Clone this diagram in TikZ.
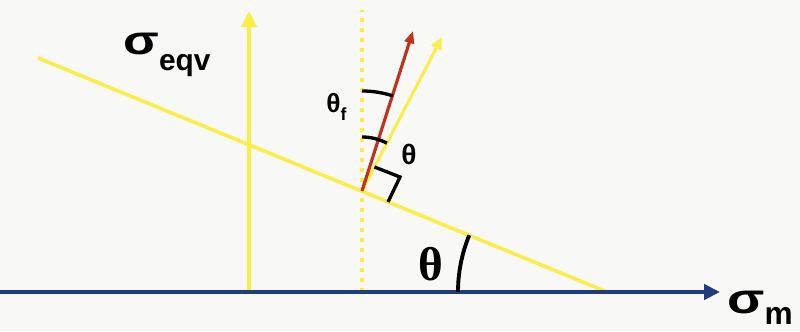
\documentclass[tikz,border=0pt]{standalone}
\usepackage{fontspec}
\setmainfont{Liberation Sans}
\newfontfamily\thetafont{Liberation Serif}
\usetikzlibrary{arrows.meta}
\definecolor{axisblue}{RGB}{30,60,126}
\definecolor{lineyellow}{RGB}{250,238,70}
\definecolor{vecred}{RGB}{192,50,28}
\definecolor{paper}{RGB}{248,248,246}
\tikzset{
  axisline/.style={draw=axisblue,line width=2.8pt,-{Triangle[length=9pt,width=8.5pt]}},
  yellowarrow/.style={draw=lineyellow,line width=2.8pt,-{Triangle[length=9pt,width=8.5pt]}},
  limitline/.style={draw=lineyellow,line width=2pt},
  dotline/.style={draw=lineyellow,line width=2.2pt,dash pattern=on 2.2pt off 3.5pt},
  redarrow/.style={draw=vecred,line width=1.8pt,-{Triangle[length=7pt,width=5.5pt]}},
  anglearc/.style={draw=black,line width=1.9pt},
  bigsym/.style={font=\bfseries\fontsize{22}{22}\selectfont,inner sep=0pt},
  smallsym/.style={font=\bfseries\fontsize{15}{15}\selectfont,inner sep=0pt}
}

\begin{document}
\begin{tikzpicture}[x=0.02cm,y=0.02cm]
% paper and frame
\fill[paper] (0,0) rectangle (800,331);
\useasboundingbox (0,0) rectangle (800,331);

% points of the picture
\coordinate (o) at (0,39);
\coordinate (xend) at (720,39);
\coordinate (ybot) at (249,39);
\coordinate (ytop) at (249,320);
\coordinate (lstart) at (38,273);
\coordinate (lend) at (607,39);
\coordinate (dbot) at (362,39);
\coordinate (dtop) at (362,321);
\coordinate (p) at (362,140);
\coordinate (rtip) at (413,300);
\coordinate (ytip) at (442,294);

% lines
\draw[dotline] (dbot) -- (dtop);
\draw[limitline] (lstart) -- (lend);
\draw[yellowarrow] (ybot) -- (ytop);
\draw[axisline] (o) -- (xend);
\draw[yellowarrow,line width=1.7pt,-{Triangle[length=7pt,width=6pt]}] (p) -- (ytip);
\draw[redarrow] (p) -- (rtip);

% right angle mark
\draw[anglearc] (388,129) -- (400,154) -- (374.5,164);

% angle arcs
\draw[anglearc] ([shift={(90:100)}]p) arc[start angle=90,end angle=72,radius=100];
\draw[anglearc] ([shift={(90:54)}]p) arc[start angle=90,end angle=62.5,radius=54];
\draw[anglearc,line width=2.2pt] ([shift={(157.6:149)}]lend) arc[start angle=157.6,end angle=180,radius=149];

% labels
\node[bigsym,anchor=base west] (seqv) at (123,276) {\scalebox{1.35}[1.05]{σ}\raisebox{-9pt}{\fontsize{17}{17}\selectfont eqv}};
\node[bigsym,font=\bfseries\fontsize{23}{23}\selectfont,anchor=base west] (sm) at (727,17) {\scalebox{1.35}[1.05]{σ}\raisebox{-6pt}{\fontsize{18}{18}\selectfont m}};
\node[smallsym,anchor=base west] (thf) at (326,218) {θ\raisebox{-4pt}{\fontsize{10}{10}\selectfont f}};
\node[smallsym,font=\bfseries\fontsize{16}{16}\selectfont] (th) at (409,177) {θ};
\node[font=\thetafont\bfseries\fontsize{27}{27}\selectfont,inner sep=0pt] (thbig) at (431,67) {θ};
\end{tikzpicture}
\end{document}
